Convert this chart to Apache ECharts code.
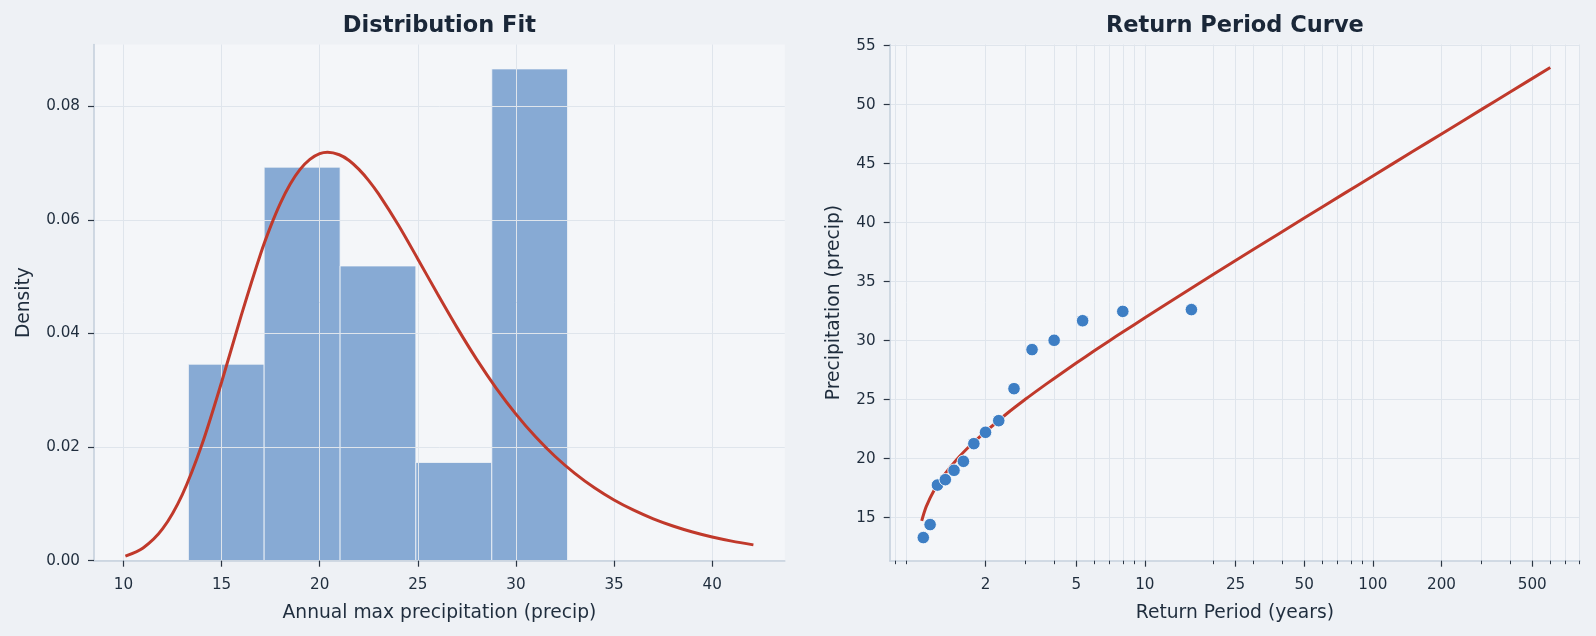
<!DOCTYPE html>
<html>
<head>
<meta charset="utf-8">
<script src="https://cdn.jsdelivr.net/npm/echarts@6/dist/echarts.min.js"></script>
<style>
  html, body { margin: 0; padding: 0; background: #eef1f5; }
  #chart { width: 1596px; height: 636px; }
</style>
</head>
<body>
<div id="chart"></div>
<script>
// histogram of annual maxima (density)
const binEdges = [13.31, 17.17, 21.04, 24.90, 28.77, 32.63]
const binDensity = [0.0346, 0.0693, 0.0519, 0.0173, 0.0866]

// fitted pdf
const pdfX = [10.1, 11, 12, 13, 14, 15, 16, 17, 17.5, 18, 18.5, 19, 19.5, 20, 20.4, 21, 21.5, 22, 22.5, 23, 24, 25,
  26, 27, 28, 29, 30, 31, 32, 33, 34, 35, 36, 37, 38, 39, 40, 41, 42.1]
const pdfY = [0.00079, 0.00223, 0.00563, 0.01165, 0.02045, 0.03142, 0.04315, 0.05414, 0.05887, 0.06297, 0.06633,
  0.0689, 0.07067, 0.07167, 0.07192, 0.07149, 0.07048, 0.06891, 0.06694, 0.06459, 0.05916, 0.05314,
  0.047, 0.04104, 0.03545, 0.03036, 0.02582, 0.02182, 0.01835, 0.01538, 0.01284, 0.01069, 0.00889,
  0.00737, 0.00611, 0.00505, 0.00417, 0.00345, 0.00279]

// observed maxima with their plotting positions
const obsPeriod = [1.067, 1.143, 1.231, 1.333, 1.455, 1.6, 1.778, 2, 2.286, 2.667, 3.2, 4, 5.333, 8, 16]
const obsPrecip = [13.31, 14.41, 17.76, 18.22, 19.01, 19.77, 21.27, 22.23, 23.22, 25.93, 29.24, 30.03, 31.69, 32.48, 32.63]

// return level curve
const curvePeriod = [1.05, 1.1, 1.2, 1.3, 1.5, 1.75, 2, 2.5, 3, 3.5, 4, 5, 6, 7, 8, 10, 12, 15, 20, 30, 50, 75,
  100, 150, 200, 300, 400, 600]
const curvePrecip = [14.73, 15.96, 17.45, 18.47, 19.95, 21.28, 22.28, 23.87, 25.05, 26.0, 26.8, 28.1, 29.14, 30.0,
  30.73, 31.94, 32.92, 34.11, 35.63, 37.74, 40.39, 42.48, 43.96, 46.05, 47.52, 49.6, 51.08, 53.15]

// tick labels
const densityTicks = [0, 0.02, 0.04, 0.06, 0.08]
const precipTicks = [10, 15, 20, 25, 30, 35, 40]
const levelTicks = [15, 20, 25, 30, 35, 40, 45, 50, 55]
const periodTicks = [2, 5, 10, 25, 50, 100, 200, 500]
const periodMinorTicks = [0.8, 0.9, 3, 4, 6, 7, 8, 9, 20, 30, 40, 60, 70, 80, 90, 300, 400, 600, 700, 800]

const FONT = 'DejaVu Sans'
const TEXT = '#1f2d3d'
const SPINE = '#c6d1dd'
const GRID = '#dfe5ec'
const TICK = '#2b3644'

const chart = echarts.init(document.getElementById('chart'))

const baseAxis = (extra) => Object.assign({
  z: 1.5,
  axisLine: { show: true, lineStyle: { color: SPINE, width: 1.6 } },
  splitLine: { show: true, lineStyle: { color: GRID, width: 1 } },
  nameLocation: 'middle',
  nameTextStyle: { color: TEXT, fontFamily: FONT, fontSize: 18.7 },
}, extra)

const option = {
  backgroundColor: '#eef1f5',
  animation: false,
  graphic: [
    { type: 'text', x: 439.4, y: 26.5, style: { text: 'Distribution Fit', font: 'bold 22.5px "DejaVu Sans"', fill: '#1a2738', textAlign: 'center', textVerticalAlign: 'middle' } },
    { type: 'text', x: 1234.9, y: 26.5, style: { text: 'Return Period Curve', font: 'bold 22.5px "DejaVu Sans"', fill: '#1a2738', textAlign: 'center', textVerticalAlign: 'middle' } },
  ],
  grid: [
    { left: 94, top: 44.5, width: 690.8, height: 516.2, show: true, backgroundColor: '#f4f6f9', borderWidth: 0 },
    { left: 889.7, top: 44.5, width: 690.3, height: 516.2, show: true, backgroundColor: '#f4f6f9', borderWidth: 0 },
    // strip under the right plot, only carries the longer major ticks
    { left: 889.7, top: 559.7, width: 690.3, height: 1, show: false },
  ],
  xAxis: [
    baseAxis({
      gridIndex: 0, type: 'value', min: 8.5, max: 43.7,
      name: 'Annual max precipitation (precip)', nameGap: 43,
      axisTick: { show: true, length: 6, customValues: precipTicks, lineStyle: { color: TICK, width: 1.2 } },
      axisLabel: { color: TEXT, fontFamily: FONT, fontSize: 15.2, margin: 17, customValues: precipTicks },
    }),
    baseAxis({
      gridIndex: 1, type: 'log', logBase: 10, min: 0.76, max: 810,
      name: 'Return Period (years)', nameGap: 43,
      axisTick: { show: true, length: 3.5, customValues: periodTicks.concat(periodMinorTicks), lineStyle: { color: TICK, width: 1 } },
      axisLabel: { color: TEXT, fontFamily: FONT, fontSize: 15.2, margin: 17, customValues: periodTicks, formatter: v => String(v) },
    }),
    {
      gridIndex: 2, type: 'log', logBase: 10, min: 0.76, max: 810,
      axisLine: { show: false },
      axisTick: { show: true, length: 6, customValues: periodTicks, lineStyle: { color: TICK, width: 1.2 } },
      axisLabel: { show: false },
      splitLine: { show: false },
    },
  ],
  yAxis: [
    baseAxis({
      gridIndex: 0, type: 'value', min: 0, max: 0.0909,
      name: 'Density', nameGap: 60,
      axisTick: { show: true, length: 6, customValues: densityTicks, lineStyle: { color: TICK, width: 1.2 } },
      axisLabel: { color: TEXT, fontFamily: FONT, fontSize: 15.2, margin: 14, customValues: densityTicks, formatter: v => v.toFixed(2) },
    }),
    baseAxis({
      gridIndex: 1, type: 'value', min: 11.35, max: 55.1,
      name: 'Precipitation (precip)', nameGap: 46,
      axisTick: { show: true, length: 6, customValues: levelTicks, lineStyle: { color: TICK, width: 1.2 } },
      axisLabel: { color: TEXT, fontFamily: FONT, fontSize: 15.2, margin: 14, customValues: levelTicks },
    }),
    { gridIndex: 2, type: 'value', show: false, min: 0, max: 1 },
  ],
  series: [
    {
      type: 'custom',
      xAxisIndex: 0, yAxisIndex: 0, z: 1,
      data: binDensity.map((d, i) => [binEdges[i], binEdges[i + 1], d]),
      encode: { x: [0, 1], y: 2 },
      renderItem: (params, api) => {
        const p0 = api.coord([api.value(0), api.value(2)])
        const p1 = api.coord([api.value(1), 0])
        return {
          type: 'rect',
          shape: { x: p0[0], y: p0[1], width: p1[0] - p0[0], height: p1[1] - p0[1] },
          style: { fill: '#87aad4', stroke: '#f4f6f9', lineWidth: 0.8 },
        }
      },
    },
    {
      type: 'line',
      xAxisIndex: 0, yAxisIndex: 0, z: 3,
      data: pdfX.map((x, i) => [x, pdfY[i]]),
      smooth: 0.3, symbol: 'none',
      lineStyle: { color: '#c0392b', width: 3 },
    },
    {
      type: 'line',
      xAxisIndex: 1, yAxisIndex: 1, z: 3,
      data: curvePeriod.map((t, i) => [t, curvePrecip[i]]),
      smooth: 0.3, symbol: 'none',
      lineStyle: { color: '#c0392b', width: 3 },
    },
    {
      type: 'scatter',
      xAxisIndex: 1, yAxisIndex: 1, z: 4,
      data: obsPeriod.map((t, i) => [t, obsPrecip[i]]),
      symbolSize: 12.5,
      itemStyle: { color: '#3d7ec4', borderColor: '#ffffff', borderWidth: 0.8, opacity: 1 },
    },
  ],
}

chart.setOption(option)
</script>
</body>
</html>
